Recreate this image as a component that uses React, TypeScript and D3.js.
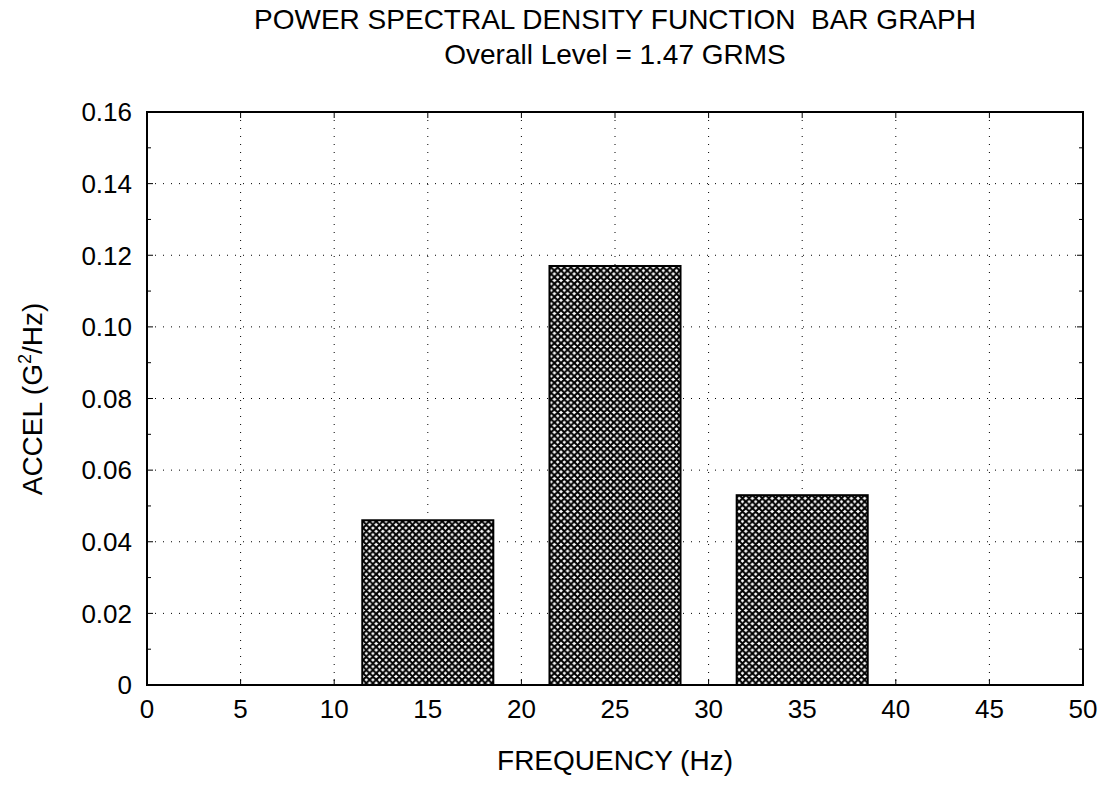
import React from "react";
import * as d3 from "d3";

const barCenters = [15, 25, 35];
const barValues = [0.046, 0.117, 0.053];
const barHalfWidth = 3.5;
const xTicks = [0, 5, 10, 15, 20, 25, 30, 35, 40, 45, 50];
const yTicks = [0, 0.02, 0.04, 0.06, 0.08, 0.1, 0.12, 0.14, 0.16];
const yTickLabels = ["0", "0.02", "0.04", "0.06", "0.08", "0.10", "0.12", "0.14", "0.16"];
const yMinorTicks = [0.01, 0.03, 0.05, 0.07, 0.09, 0.11, 0.13, 0.15];
const titleLine1 = "POWER SPECTRAL DENSITY FUNCTION\u00a0 BAR GRAPH";
const titleLine2 = "Overall Level = 1.47 GRMS";

const W = 1106, H = 786;
const L = 147, R = 1083, T = 112, B = 685;

export default function App() {
  const x = d3.scaleLinear().domain([0, 50]).range([L, R]);
  const y = d3.scaleLinear().domain([0, 0.16]).range([B, T]);
  const font = "Arial, 'Liberation Sans', sans-serif";
  const P = 6.6;
  const cx = 615;
  return (
    <svg width={W} height={H} style={{ position: "absolute", left: 0, top: 0, background: "#fff" }} fontFamily={font}>
      <defs>
        <pattern id="xh" patternUnits="userSpaceOnUse" width={P} height={P}>
          <rect width={P} height={P} fill="#fff" />
          <path d={`M${-P},${-P}L${2 * P},${2 * P}M${-P},0L${P},${2 * P}M0,${-P}L${2 * P},${P}M${2 * P},${-P}L${-P},${2 * P}M${P},${-P}L${-P},${P}M${2 * P},0L0,${2 * P}`} stroke="#000" strokeWidth={2.1} />
        </pattern>
      </defs>
      <rect x={0} y={0} width={W} height={H} fill="#fff" />
      <text x={cx} y={29} textAnchor="middle" fontSize={28}>{titleLine1}</text>
      <text x={cx} y={64} textAnchor="middle" fontSize={28}>{titleLine2}</text>
      {/* grid */}
      {xTicks.slice(1, -1).map((t) => (
        <line key={"gx" + t} x1={x(t)} x2={x(t)} y1={T} y2={B} stroke="#000" strokeWidth={1} strokeDasharray="1,7" />
      ))}
      {yTicks.slice(1, -1).map((t) => (
        <line key={"gy" + t} x1={L} x2={R} y1={y(t)} y2={y(t)} stroke="#000" strokeWidth={1} strokeDasharray="1,7" />
      ))}
      {/* bars */}
      {barCenters.map((c, i) => (
        <rect key={"b" + i} x={x(c - barHalfWidth)} y={y(barValues[i])} width={x(c + barHalfWidth) - x(c - barHalfWidth)} height={y(0) - y(barValues[i])} fill="url(#xh)" stroke="#000" strokeWidth={2} />
      ))}
      {/* frame */}
      <rect x={L} y={T} width={R - L} height={B - T} fill="none" stroke="#000" strokeWidth={2} />
      {/* ticks */}
      {xTicks.map((t) => (
        <g key={"tx" + t}>
          <line x1={x(t)} x2={x(t)} y1={B} y2={B - 6} stroke="#000" strokeWidth={1} />
          <line x1={x(t)} x2={x(t)} y1={T} y2={T + 6} stroke="#000" strokeWidth={1} />
          <text x={x(t)} y={718} textAnchor="middle" fontSize={26}>{t}</text>
        </g>
      ))}
      {yTicks.map((t, i) => (
        <g key={"ty" + t}>
          <line x1={L} x2={L + 6} y1={y(t)} y2={y(t)} stroke="#000" strokeWidth={1} />
          <line x1={R} x2={R - 6} y1={y(t)} y2={y(t)} stroke="#000" strokeWidth={1} />
          <text x={132} y={y(t) + 9.3} textAnchor="end" fontSize={26}>{yTickLabels[i]}</text>
        </g>
      ))}
      {yMinorTicks.map((t) => (
        <g key={"my" + t}>
          <line x1={L} x2={L + 4} y1={y(t)} y2={y(t)} stroke="#000" strokeWidth={1} />
          <line x1={R} x2={R - 4} y1={y(t)} y2={y(t)} stroke="#000" strokeWidth={1} />
        </g>
      ))}
      <text x={cx} y={770} textAnchor="middle" fontSize={28}>FREQUENCY (Hz)</text>
      <text transform={`translate(42,399) rotate(-90)`} textAnchor="middle" fontSize={28}>
        ACCEL (G<tspan dy={-11} fontSize={18}>2</tspan><tspan dy={11}>/Hz)</tspan>
      </text>
    </svg>
  );
}
